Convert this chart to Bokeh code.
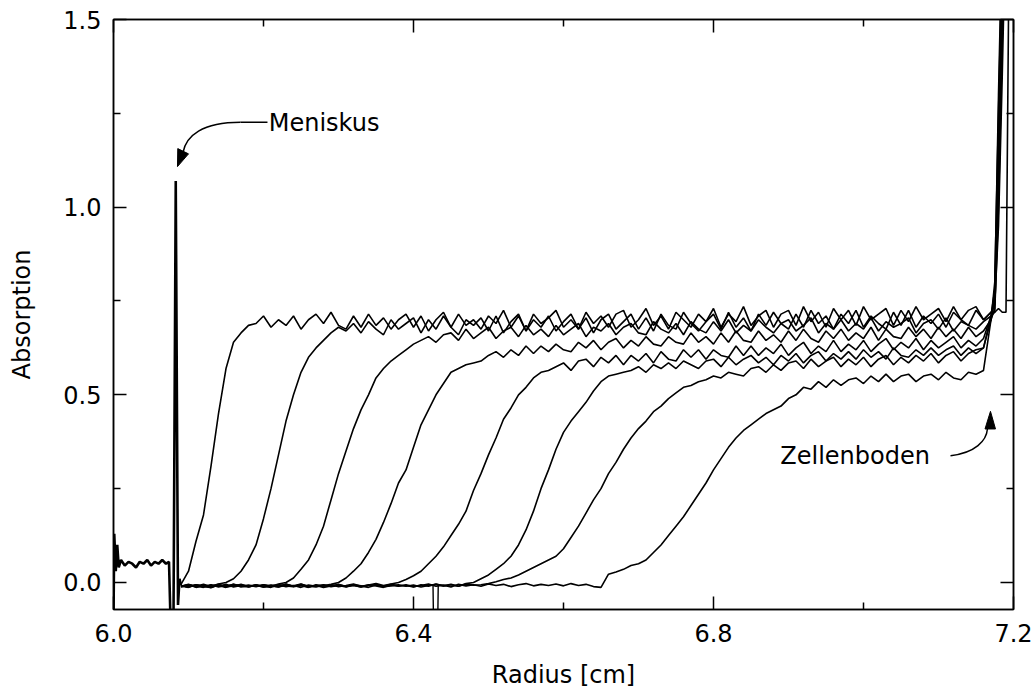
from bokeh.plotting import figure
from bokeh.models import Range1d, FixedTicker, LinearAxis, NumeralTickFormatter
from bokeh.core.properties import value
from bokeh.embed import file_html
from bokeh.resources import INLINE

# ---------------- data ----------------
radius = [
    6.09, 6.10, 6.11, 6.12, 6.13, 6.14, 6.15, 6.16, 6.17, 6.18,
    6.19, 6.20, 6.21, 6.22, 6.23, 6.24, 6.25, 6.26, 6.27, 6.28,
    6.29, 6.30, 6.31, 6.32, 6.33, 6.34, 6.35, 6.36, 6.37, 6.38,
    6.39, 6.40, 6.41, 6.42, 6.43, 6.44, 6.45, 6.46, 6.47, 6.48,
    6.49, 6.50, 6.51, 6.52, 6.53, 6.54, 6.55, 6.56, 6.57, 6.58,
    6.59, 6.60, 6.61, 6.62, 6.63, 6.64, 6.65, 6.66, 6.67, 6.68,
    6.69, 6.70, 6.71, 6.72, 6.73, 6.74, 6.75, 6.76, 6.77, 6.78,
    6.79, 6.80, 6.81, 6.82, 6.83, 6.84, 6.85, 6.86, 6.87, 6.88,
    6.89, 6.90, 6.91, 6.92, 6.93, 6.94, 6.95, 6.96, 6.97, 6.98,
    6.99, 7.00, 7.01, 7.02, 7.03, 7.04, 7.05, 7.06, 7.07, 7.08,
    7.09, 7.10, 7.11, 7.12, 7.13, 7.14, 7.15, 7.16, 7.17,
    7.175, 7.18, 7.185, 7.19, 7.195,
]

scan1 = [
    -0.005, 0.03, 0.11, 0.18, 0.31, 0.45, 0.57, 0.64, 0.665, 0.685,
    0.69, 0.71, 0.68, 0.70, 0.685, 0.71, 0.675, 0.70, 0.715, 0.69,
    0.72, 0.685, 0.675, 0.71, 0.68, 0.715, 0.685, 0.705, 0.675, 0.70,
    0.715, 0.68, 0.71, 0.67, 0.70, 0.72, 0.68, 0.715, 0.685, 0.70,
    0.675, 0.71, 0.69, 0.725, 0.68, 0.71, 0.67, 0.715, 0.69, 0.705,
    0.725, 0.68, 0.70, 0.675, 0.72, 0.69, 0.71, 0.68, 0.715, 0.725,
    0.68, 0.70, 0.73, 0.685, 0.71, 0.675, 0.72, 0.70, 0.68, 0.715,
    0.695, 0.73, 0.68, 0.715, 0.695, 0.735, 0.685, 0.71, 0.725, 0.68,
    0.715, 0.725, 0.685, 0.735, 0.695, 0.72, 0.68, 0.73, 0.70, 0.725,
    0.685, 0.735, 0.70, 0.715, 0.73, 0.685, 0.725, 0.695, 0.735, 0.70,
    0.715, 0.73, 0.695, 0.735, 0.70, 0.725, 0.735, 0.70, 0.72,
    0.72, 0.73, 0.72, 0.72, 1.9,
]

scan2 = [
    -0.01, -0.005, -0.012, -0.008, -0.01, -0.004, 0.0, 0.01, 0.03, 0.06,
    0.10, 0.17, 0.25, 0.34, 0.43, 0.50, 0.56, 0.60, 0.625, 0.645,
    0.665, 0.68, 0.67, 0.69, 0.665, 0.695, 0.675, 0.66, 0.70, 0.675,
    0.69, 0.705, 0.665, 0.70, 0.675, 0.71, 0.68, 0.66, 0.70, 0.685,
    0.705, 0.67, 0.71, 0.665, 0.695, 0.715, 0.67, 0.70, 0.68, 0.71,
    0.67, 0.695, 0.715, 0.675, 0.705, 0.665, 0.70, 0.715, 0.675, 0.695,
    0.715, 0.675, 0.705, 0.67, 0.715, 0.685, 0.675, 0.72, 0.69, 0.67,
    0.695, 0.715, 0.675, 0.72, 0.68, 0.705, 0.67, 0.715, 0.685, 0.72,
    0.69, 0.675, 0.715, 0.68, 0.725, 0.69, 0.71, 0.675, 0.715, 0.69,
    0.725, 0.68, 0.71, 0.69, 0.675, 0.72, 0.685, 0.725, 0.68, 0.71,
    0.69, 0.715, 0.68, 0.72, 0.70, 0.685, 0.725, 0.70, 0.72,
    0.74, 0.95, 1.35, 1.8, 2.0,
]

scan3 = [
    -0.008, -0.012, -0.006, -0.01, -0.014, -0.007, -0.01, -0.005, -0.012, -0.009,
    -0.01, -0.006, -0.011, -0.004, 0.0, 0.012, 0.035, 0.06, 0.10, 0.15,
    0.22, 0.29, 0.35, 0.41, 0.46, 0.50, 0.545, 0.57, 0.59, 0.605,
    0.62, 0.635, 0.645, 0.655, 0.64, 0.66, 0.665, 0.645, 0.675, 0.65,
    0.665, 0.68, 0.65, 0.67, 0.68, 0.655, 0.685, 0.66, 0.675, 0.655,
    0.685, 0.66, 0.675, 0.69, 0.655, 0.68, 0.67, 0.69, 0.66, 0.68,
    0.69, 0.665, 0.66, 0.695, 0.675, 0.665, 0.69, 0.66, 0.695, 0.675,
    0.665, 0.695, 0.67, 0.70, 0.665, 0.685, 0.67, 0.70, 0.68, 0.665,
    0.69, 0.70, 0.67, 0.685, 0.705, 0.665, 0.69, 0.675, 0.70, 0.67,
    0.69, 0.675, 0.705, 0.67, 0.695, 0.68, 0.69, 0.705, 0.665, 0.69,
    0.70, 0.675, 0.705, 0.67, 0.695, 0.685, 0.675, 0.695, 0.71,
    0.76, 1.1, 1.55, 1.9, 2.0,
]

scan4 = [
    -0.01, -0.006, -0.013, -0.008, -0.01, -0.005, -0.012, -0.009, -0.006, -0.011,
    -0.008, -0.012, -0.007, -0.01, -0.004, -0.011, -0.008, -0.013, -0.006, -0.009,
    -0.005, 0.0, 0.012, 0.03, 0.05, 0.08, 0.115, 0.16, 0.21, 0.265,
    0.30, 0.36, 0.42, 0.46, 0.50, 0.53, 0.56, 0.57, 0.58, 0.585,
    0.59, 0.605, 0.615, 0.60, 0.62, 0.605, 0.63, 0.61, 0.63, 0.615,
    0.635, 0.62, 0.615, 0.64, 0.625, 0.645, 0.62, 0.64, 0.65, 0.625,
    0.645, 0.63, 0.655, 0.635, 0.63, 0.655, 0.64, 0.635, 0.665, 0.64,
    0.655, 0.635, 0.665, 0.64, 0.67, 0.645, 0.64, 0.67, 0.645, 0.66,
    0.64, 0.67, 0.645, 0.675, 0.65, 0.64, 0.67, 0.65, 0.675, 0.645,
    0.665, 0.65, 0.68, 0.645, 0.675, 0.655, 0.65, 0.68, 0.655, 0.675,
    0.65, 0.68, 0.655, 0.675, 0.65, 0.68, 0.655, 0.67, 0.70,
    0.80, 1.25, 1.7, 2.0, 2.0,
]

scan5 = [
    -0.012, -0.007, -0.01, -0.005, -0.011, -0.008, -0.013, -0.006, -0.01, -0.007,
    -0.011, -0.006, -0.009, -0.012, -0.005, -0.01, -0.007, -0.012, -0.008, -0.01,
    -0.006, -0.011, -0.008, -0.004, -0.01, -0.007, -0.003, -0.008, -0.004, 0.0,
    0.008, 0.018, 0.03, 0.05, 0.07, 0.095, 0.125, 0.155, 0.19, 0.245,
    0.29, 0.34, 0.385, 0.435, 0.465, 0.50, 0.52, 0.545, 0.56, 0.565,
    0.575, 0.585, 0.565, 0.59, 0.595, 0.575, 0.60, 0.585, 0.605, 0.58,
    0.605, 0.59, 0.61, 0.585, 0.615, 0.595, 0.59, 0.62, 0.60, 0.62,
    0.595, 0.62, 0.605, 0.60, 0.63, 0.605, 0.63, 0.605, 0.625, 0.61,
    0.635, 0.605, 0.625, 0.64, 0.61, 0.63, 0.615, 0.645, 0.615, 0.635,
    0.62, 0.645, 0.615, 0.635, 0.65, 0.62, 0.64, 0.625, 0.65, 0.62,
    0.645, 0.625, 0.64, 0.655, 0.625, 0.645, 0.63, 0.65, 0.71,
    0.72, 1.0, 1.45, 1.85, 2.0,
]

scan6 = [
    -0.009, -0.013, -0.007, -0.011, -0.006, -0.012, -0.008, -0.01, -0.005, -0.011,
    -0.007, -0.012, -0.009, -0.006, -0.011, -0.008, -0.013, -0.007, -0.01, -0.006,
    -0.011, -0.008, -0.012, -0.006, -0.009, -0.013, -0.007, -0.01, -0.005, -0.009,
    -0.008, -0.012, -0.006, -0.01, -0.004, -0.009, -0.005, -0.01, -0.003, 0.0,
    0.01, 0.02, 0.035, 0.05, 0.07, 0.10, 0.14, 0.19, 0.25, 0.30,
    0.355, 0.40, 0.43, 0.455, 0.48, 0.51, 0.535, 0.55, 0.555, 0.56,
    0.565, 0.575, 0.56, 0.58, 0.57, 0.585, 0.57, 0.59, 0.58, 0.57,
    0.59, 0.595, 0.575, 0.60, 0.58, 0.595, 0.605, 0.585, 0.60, 0.58,
    0.605, 0.59, 0.61, 0.585, 0.605, 0.615, 0.59, 0.61, 0.595, 0.615,
    0.595, 0.62, 0.60, 0.615, 0.595, 0.625, 0.605, 0.60, 0.62, 0.605,
    0.625, 0.605, 0.62, 0.63, 0.605, 0.625, 0.61, 0.625, 0.70,
    0.75, 1.15, 1.6, 2.0, 2.0,
]

scan7 = [
    -0.011, -0.006, -0.009, -0.013, -0.007, -0.01, -0.005, -0.012, -0.008, -0.01,
    -0.006, -0.011, -0.008, -0.012, -0.007, -0.009, -0.004, -0.011, -0.008, -0.013,
    -0.009, -0.006, -0.01, -0.007, -0.012, -0.008, -0.005, -0.011, -0.009, -0.006,
    -0.01, -0.007, -0.012, -0.008, -0.005, -0.009, -0.006, -0.01, -0.004, -0.007,
    -0.006, -0.003, 0.002, 0.008, 0.012, 0.02, 0.03, 0.04, 0.05, 0.06,
    0.07, 0.09, 0.12, 0.15, 0.185, 0.22, 0.25, 0.29, 0.32, 0.355,
    0.385, 0.41, 0.43, 0.455, 0.47, 0.49, 0.505, 0.52, 0.525, 0.535,
    0.54, 0.55, 0.545, 0.56, 0.555, 0.55, 0.57, 0.575, 0.56, 0.58,
    0.565, 0.585, 0.59, 0.57, 0.595, 0.575, 0.59, 0.60, 0.575, 0.595,
    0.58, 0.60, 0.575, 0.595, 0.605, 0.58, 0.60, 0.585, 0.605, 0.59,
    0.61, 0.585, 0.605, 0.615, 0.59, 0.61, 0.62, 0.625, 0.71,
    0.78, 1.3, 1.75, 2.0, 2.0,
]

scan8 = [
    -0.008, -0.012, -0.006, -0.01, -0.013, -0.007, -0.011, -0.005, -0.009, -0.012,
    -0.007, -0.01, -0.013, -0.006, -0.009, -0.011, -0.005, -0.01, -0.012, -0.007,
    -0.01, -0.005, -0.011, -0.008, -0.012, -0.006, -0.009, -0.013, -0.007, -0.01,
    -0.006, -0.011, -0.008, -0.004, -0.01, -0.007, -0.012, -0.005, -0.009, -0.006,
    -0.01, -0.004, -0.008, -0.005, -0.011, -0.006, -0.003, -0.009, -0.005, -0.008,
    -0.004, -0.009, -0.003, -0.008, -0.005, -0.011, -0.013, 0.022, 0.028, 0.035,
    0.045, 0.05, 0.06, 0.08, 0.10, 0.125, 0.15, 0.175, 0.205, 0.235,
    0.265, 0.30, 0.33, 0.36, 0.385, 0.405, 0.42, 0.435, 0.45, 0.46,
    0.47, 0.49, 0.50, 0.52, 0.515, 0.535, 0.52, 0.54, 0.525, 0.54,
    0.545, 0.53, 0.55, 0.535, 0.555, 0.535, 0.55, 0.555, 0.535, 0.55,
    0.555, 0.54, 0.56, 0.545, 0.54, 0.56, 0.555, 0.565, 0.70,
    0.73, 1.05, 1.5, 1.9, 2.0,
]

scans = [scan1, scan2, scan3, scan4, scan5, scan6, scan7, scan8]

# reference window and meniscus (common to all scans)
window_r = [6.000, 6.001, 6.003, 6.005, 6.007, 6.010, 6.015, 6.020, 6.025, 6.030,
            6.035, 6.040, 6.045, 6.050, 6.055, 6.060, 6.065, 6.070, 6.074, 6.076,
            6.080, 6.083, 6.086, 6.088, 6.090]
window_a = [-0.10, 0.13, 0.03, 0.10, 0.04, 0.06, 0.045, 0.055, 0.05, 0.04,
            0.055, 0.05, 0.06, 0.045, 0.055, 0.05, 0.06, 0.05, 0.055, -0.10,
            -0.10, 1.07, -0.06, 0.01, -0.008]

# short dropout in one scan near r = 6.43
dropout_r = [6.426, 6.427, 6.432, 6.433]
dropout_a = [-0.005, -0.15, -0.15, -0.005]

x_major = [6.0, 6.4, 6.8, 7.2]
x_minor = [6.2, 6.6, 7.0]
y_major = [0.0, 0.5, 1.0, 1.5]
y_minor = [0.25, 0.75, 1.25]

# annotations (data coordinates)
label_text = ["Meniskus", "Zellenboden"]
label_x = [6.207, 6.889]
label_y = [1.223, 0.338]

FONT = "DejaVu Sans"

p = figure(width=1035, height=697,
           x_range=Range1d(6.0, 7.2), y_range=Range1d(-0.072, 1.5),
           output_backend="svg", toolbar_location=None,
           min_border_left=113, min_border_right=22,
           min_border_top=19, min_border_bottom=88,
           x_axis_label="Radius [cm]", y_axis_label="Absorption")
p.background_fill_color = "white"
p.border_fill_color = "white"
p.outline_line_color = "black"
p.outline_line_width = 1.5
p.xgrid.visible = False
p.ygrid.visible = False

for s in scans:
    p.line(radius, s, line_color="black", line_width=1.6)
p.line(window_r, window_a, line_color="black", line_width=2.6)
p.line(dropout_r, dropout_a, line_color="black", line_width=1.4)


def style(ax, ticks, minor, labels=True):
    ax.ticker = FixedTicker(ticks=ticks, minor_ticks=minor)
    ax.formatter = NumeralTickFormatter(format="0.0")
    ax.axis_line_color = "black"
    ax.axis_line_width = 1.5
    ax.major_tick_in = 13
    ax.major_tick_out = 0
    ax.minor_tick_in = 7
    ax.minor_tick_out = 0
    ax.major_tick_line_color = "black"
    ax.minor_tick_line_color = "black"
    ax.major_tick_line_width = 1.5
    ax.minor_tick_line_width = 1.5
    ax.major_label_text_font = FONT
    ax.major_label_text_font_size = "24px"
    ax.major_label_text_color = "black"
    ax.axis_label_text_font = FONT
    ax.axis_label_text_font_size = "24px"
    ax.axis_label_text_font_style = "normal"
    ax.axis_label_text_color = "black"
    if not labels:
        ax.major_label_text_font_size = "1px"
        ax.major_label_text_color = None
        ax.major_label_standoff = 0


xa = p.xaxis[0]
ya = p.yaxis[0]
style(xa, x_major, x_minor)
style(ya, y_major, y_minor)
xa.major_label_standoff = 14
xa.axis_label_standoff = 16
ya.major_label_standoff = 12
ya.axis_label_standoff = 24

top = LinearAxis()
style(top, x_major, x_minor, labels=False)
p.add_layout(top, "above")
right = LinearAxis()
style(right, y_major, y_minor, labels=False)
p.add_layout(right, "right")

# annotation texts
p.text(x=label_x, y=label_y, text=label_text, text_font=value(FONT),
       text_font_size="24px", text_align="left", text_baseline="middle",
       text_color="black")

# Meniskus arrow
p.segment(x0=[6.2053], y0=[1.226], x1=[6.1693], y1=[1.226],
          line_color="black", line_width=1.5)
p.bezier(x0=[6.1693], y0=[1.226], x1=[6.0927], y1=[1.146],
         cx0=[6.118], cy0=[1.226], cx1=[6.097], cy1=[1.19],
         line_color="black", line_width=1.5)
p.patch(x=[6.0853, 6.0857, 6.1000], y=[1.108, 1.156, 1.142],
        fill_color="black", line_color="black", line_width=1)

# Zellenboden arrow
p.bezier(x0=[7.116], y0=[0.3378], x1=[7.1653], y1=[0.4096],
         cx0=[7.1493], cy0=[0.3457], cx1=[7.164], cy1=[0.3777],
         line_color="black", line_width=1.5)
p.patch(x=[7.1693, 7.1620, 7.1760], y=[0.456, 0.409, 0.409],
        fill_color="black", line_color="black", line_width=1)

open("out.html", "w").write(file_html(p, INLINE))
